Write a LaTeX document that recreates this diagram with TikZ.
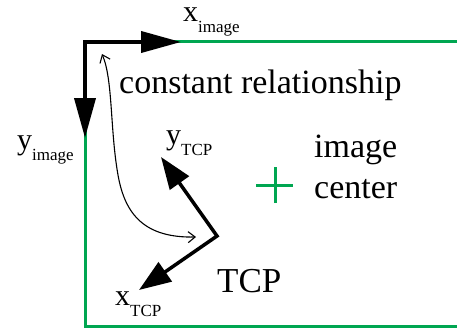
\documentclass[tikz,border=0pt]{standalone}
\usepackage{fontspec}
\setmainfont{Liberation Serif}
\usetikzlibrary{arrows.meta}
\definecolor{imggreen}{HTML}{00A651}
\newcommand\axlbl[2]{{\fontsize{30}{30}\selectfont #1}\raisebox{-11pt}{\fontsize{17}{17}\selectfont #2}}
\tikzset{
  frame/.style={draw=imggreen, line width=3pt},
  imgaxis/.style={draw=black, line width=3.8pt, line join=miter,
    {Triangle[length=40pt,width=21pt]}-{Triangle[length=40pt,width=21pt]}},
  tcpaxis/.style={draw=black, line width=3.5pt, line join=miter,
    {Triangle[length=32pt,width=23pt]}-{Triangle[length=32pt,width=23pt]}},
  relarrow/.style={draw=black, line width=1.1pt,
    {Straight Barb[length=7pt,width=11pt]}-{Straight Barb[length=7pt,width=11pt]}},
  lbl/.style={inner sep=0pt, anchor=base west},
  bigtxt/.style={lbl, font=\fontsize{34}{41}\selectfont}
}
\begin{document}
\begin{tikzpicture}[x=1pt,y=-1pt]
\useasboundingbox (0,0) rectangle (457,329);
% frame
\coordinate (TR) at (457,42);
\coordinate (C) at (85,42);
\coordinate (BL) at (85,326);
\coordinate (BR) at (457,326);
\draw[frame] (TR) -- (C) -- (BL) -- (BR);
% image axes
\coordinate (XI) at (181,42);
\coordinate (YI) at (85,138);
\draw[imgaxis] (XI) -- (C) -- (YI);
% TCP axes
\coordinate (T) at (217,236);
\coordinate (XT) at (139,290);
\coordinate (YT) at (161,157);
\draw[tcpaxis] (YT) -- (T) -- (XT);
% image center cross
\coordinate (IC) at (275,185);
\draw[frame] ([xshift=-19pt]IC) -- ([xshift=18pt]IC);
\draw[frame] ([yshift=-18pt]IC) -- ([yshift=18pt]IC);
% relationship arrow
\coordinate (RA) at (102,54);
\coordinate (RB) at (196,237);
\draw[relarrow] (RA) .. controls (113,80) and (110,130) .. (118,175)
   .. controls (125,215) and (145,238) .. (RB);
% labels
\node[lbl] (lxi) at (183,22) {\axlbl{x}{image}};
\node[lbl] (lyi) at (17,149) {\axlbl{y}{image}};
\node[lbl] (lyt) at (166,144) {\axlbl{y}{TCP}};
\node[lbl] (lxt) at (115,305) {\axlbl{x}{TCP}};
\node[bigtxt] (rel) at (119,93) {constant relationship};
\node[bigtxt, align=left] (ctr) at (314,198) {image\\center};
\node[bigtxt, font=\fontsize{35}{41}\selectfont] (tcp) at (217,292) {TCP};
\end{tikzpicture}
\end{document}
